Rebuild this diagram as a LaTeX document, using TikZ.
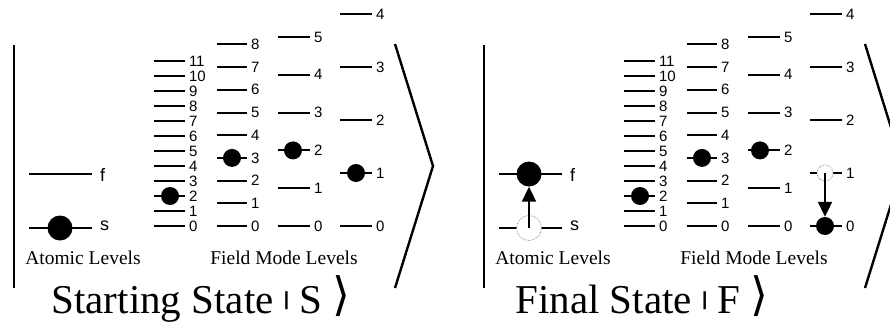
\documentclass[tikz,border=0pt]{standalone}
\usepackage{fontspec}
\setmainfont{Liberation Serif}
\setsansfont{Liberation Sans}
\newfontfamily\djv{DejaVu Sans}
\usetikzlibrary{arrows.meta}
\tikzset{
  lvl/.style={line width=2pt},
  bar/.style={line width=2.4pt},
  num/.style={font=\sffamily\fontsize{15}{15}\selectfont, anchor=west, inner sep=0pt, xshift=3pt},
  lab/.style={font=\sffamily\fontsize{18}{18}\selectfont, anchor=west, inner sep=0pt, xshift=7pt},
  captxt/.style={font=\fontsize{19.5}{19.5}\selectfont, inner sep=0pt},
  ttl/.style={font=\fontsize{41}{41}\selectfont, anchor=base, inner sep=0pt},
  ball/.style={circle, fill=black, inner sep=0pt, minimum size=#1},
  ghost/.style={circle, draw=gray, densely dotted, line width=0.7pt, fill=white, inner sep=0pt, minimum size=#1},
  arr/.style={line width=2pt, -{Triangle[length=15pt,width=14pt]}}
}
\newcommand\vbar{\raisebox{8pt}{\sffamily\bfseries\fontsize{19}{19}\selectfont |}}
\newcommand\rang{\raisebox{3pt}{\djv\fontsize{46}{46}\selectfont ⟩}}
\newcommand\drawpanel[2]{%
\begin{scope}[xshift=#1]
  \draw[bar] (14,45) -- (14,288);
  \draw[bar, line join=miter] (395,44) -- (433,166) -- (395,288);
  \draw[lvl] (29,174) -- (92,174) node[lab, name=#2f, yshift=-1pt] {f};
  \draw[lvl] (29,228) -- (92,228) node[lab, name=#2s, yshift=2pt] {s};
  \foreach \xa/\xb/\d/\m/\c in {154/185/15/11/a, 217/247/22.7/8/b, 278/310/37.8/5/c, 340/372/53/4/d}{
    \foreach \k in {0,...,\m}{
      \draw[lvl] (\xa,226-\k*\d) -- (\xb,226-\k*\d) node[num, name=#2\c\k] {\k};
    }
  }
  \node[captxt] (#2al) at (83,258) {Atomic Levels};
  \node[captxt] (#2fm) at (284,258) {Field Mode Levels};
\end{scope}}
\begin{document}
\begin{tikzpicture}[x=1pt,y=-1pt]
  \useasboundingbox (0,0) rectangle (890,321);
  \clip (0,0) rectangle (890,321);
  \drawpanel{0}{L}
  \drawpanel{470}{R}
  % left panel occupations
  \node[ball=25pt] (Lbs) at (60,228) {};
  \node[ball=18pt] (Lba) at (170,196) {};
  \node[ball=18pt] (Lbb) at (232,157.9) {};
  \node[ball=18pt] (Lbc) at (293,150.4) {};
  \node[ball=18pt] (Lbd) at (356,173) {};
  \node[ttl] (Lt) at (201,313) {Starting State \vbar{} S \rang};
  % right panel occupations
  \node[ball=25pt] (Rbf) at (529,174) {};
  \node[ghost=25pt] (Rgs) at (529,228) {};
  \node[ball=18pt] (Rba) at (640,196) {};
  \node[ball=18pt] (Rbb) at (702,157.9) {};
  \node[ball=18pt] (Rbc) at (760,150.4) {};
  \node[ghost=16pt] (Rgd) at (825,173) {};
  \node[ball=18pt] (Rbd) at (825,226) {};
  \draw[arr] (Rgs.center) -- (Rbf.south);
  \draw[arr] (Rgd.center) -- (Rbd.north);
  \node[ttl] (Rt) at (642,313) {Final State \vbar{} F \rang};
\end{tikzpicture}
\end{document}
